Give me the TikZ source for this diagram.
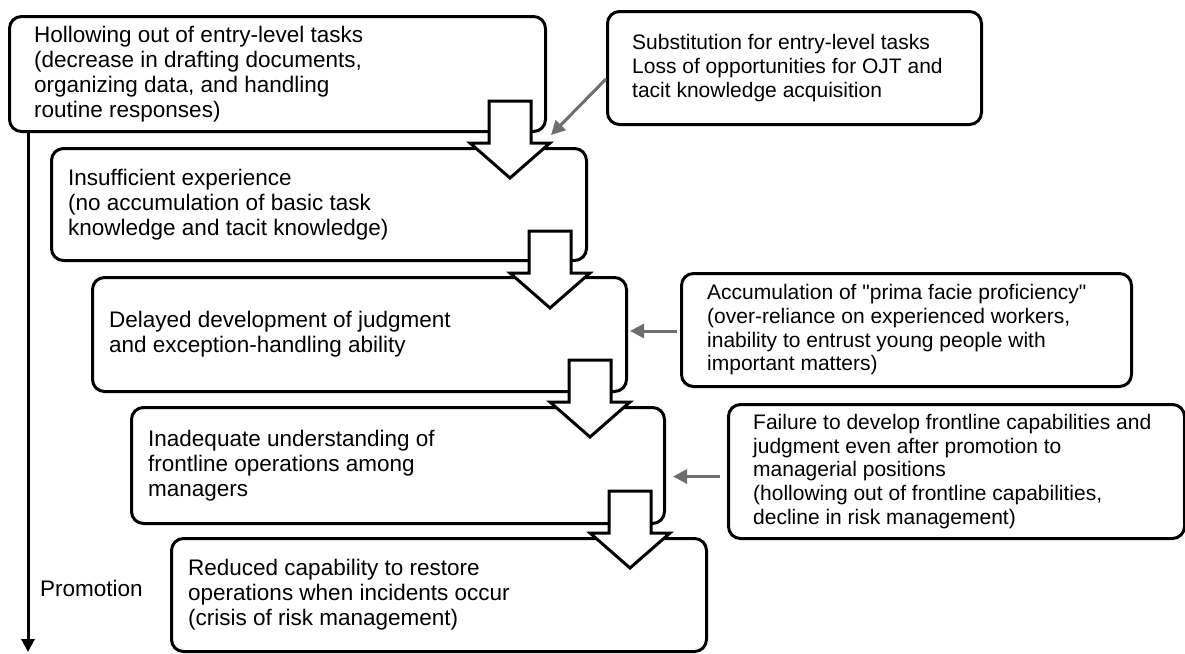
\documentclass[tikz,border=0pt]{standalone}
\usepackage{fontspec}
\setmainfont{Liberation Sans}[Ligatures=TeXOff]
\usetikzlibrary{arrows.meta,calc}
\definecolor{arrgray}{HTML}{6E6E6E}
\tikzset{
  box/.style={draw, line width=3pt, rounded corners=12pt, fill=white, anchor=north west, inner sep=0pt},
  txt/.style={anchor=west, align=left, inner sep=0pt, font=\fontsize{22.5}{25}\selectfont},
  sidetxt/.style={anchor=west, align=left, inner sep=0pt, font=\fontsize{21}{23.7}\selectfont},
  promarrow/.style={line width=3pt, -{Triangle[length=13pt,width=13pt]}},
  grayarrow/.style={draw=arrgray, line width=3pt, -{Triangle[length=14pt,width=14pt]}},
  blockarrow/.pic={\draw[line width=3pt, fill=white, line join=miter]
    (-21,0) -- (21,0) -- (21,42) -- (40,42) -- (0,77) -- (-40,42) -- (-21,42) -- cycle;}
}
\begin{document}
\begin{tikzpicture}[x=1pt,y=-1pt]
\useasboundingbox (0,0) rectangle (1185,653);
% main boxes
\node[box, minimum width=536pt, minimum height=115pt] (b1) at (8,15) {};
\node[box, minimum width=535pt, minimum height=112pt] (b2) at (50,147) {};
\node[box, minimum width=534pt, minimum height=114pt] (b3) at (91,276) {};
\node[box, minimum width=533pt, minimum height=116pt] (b4) at (130,406) {};
\node[box, minimum width=535pt, minimum height=113pt] (b5) at (170,537) {};
% side boxes
\node[box, minimum width=374pt, minimum height=113pt] (r1) at (606,10) {};
\node[box, minimum width=450pt, minimum height=113pt] (r2) at (680,272) {};
\node[box, minimum width=456pt, minimum height=134pt] (r3) at (727,403) {};
% texts
\node[txt] (t1) at ($(b1.west)+(26,0)$) {Hollowing out of entry-level tasks\\(decrease in drafting documents,\\organizing data, and handling\\routine responses)};
\node[txt] (t2) at ($(b2.west)+(18,0)$) {Insufficient experience\\(no accumulation of basic task\\knowledge and tacit knowledge)};
\node[txt] (t3) at ($(b3.west)+(18,0)$) {Delayed development of judgment\\and exception-handling ability};
\node[txt] (t4) at ($(b4.west)+(18,0)$) {Inadequate understanding of\\frontline operations among\\managers};
\node[txt] (t5) at ($(b5.west)+(18,0)$) {Reduced capability to restore\\operations when incidents occur\\(crisis of risk management)};
\node[sidetxt] (s1) at ($(r1.west)+(26,0)$) {Substitution for entry-level tasks\\Loss of opportunities for OJT and\\tacit knowledge acquisition};
\node[sidetxt] (s2) at ($(r2.west)+(27,0)$) {Accumulation of "prima facie proficiency"\\(over-reliance on experienced workers,\\inability to entrust young people with\\important matters)};
\node[sidetxt] (s3) at ($(r3.west)+(26,0)$) {Failure to develop frontline capabilities and\\judgment even after promotion to\\managerial positions\\(hollowing out of frontline capabilities,\\decline in risk management)};
\node[txt] (prom) at (40,588) {Promotion};
% promotion arrow
\coordinate (pend) at (28,652);
\draw[promarrow] (b1.south -| pend) -- (pend);
% block arrows
\pic at ($(b1.south east)+(-37,-32)$) {blockarrow};
\pic at ($(b2.south east)+(-38,-31)$) {blockarrow};
\pic at ($(b3.south east)+(-38,-33)$) {blockarrow};
\pic at ($(b4.south east)+(-36,-34)$) {blockarrow};
% gray arrows
\draw[grayarrow] ($(r1.west)+(0,11)$) -- ($(b1.south east)+(4,2)$);
\draw[grayarrow] ($(r2.west)+(-3,1)$) -- ($(r2.west -| b3.east)+(2,1)$);
\draw[grayarrow] ($(r3.west)+(-7,5)$) -- ($(r3.west -| b4.east)+(7,5)$);
\end{tikzpicture}
\end{document}
